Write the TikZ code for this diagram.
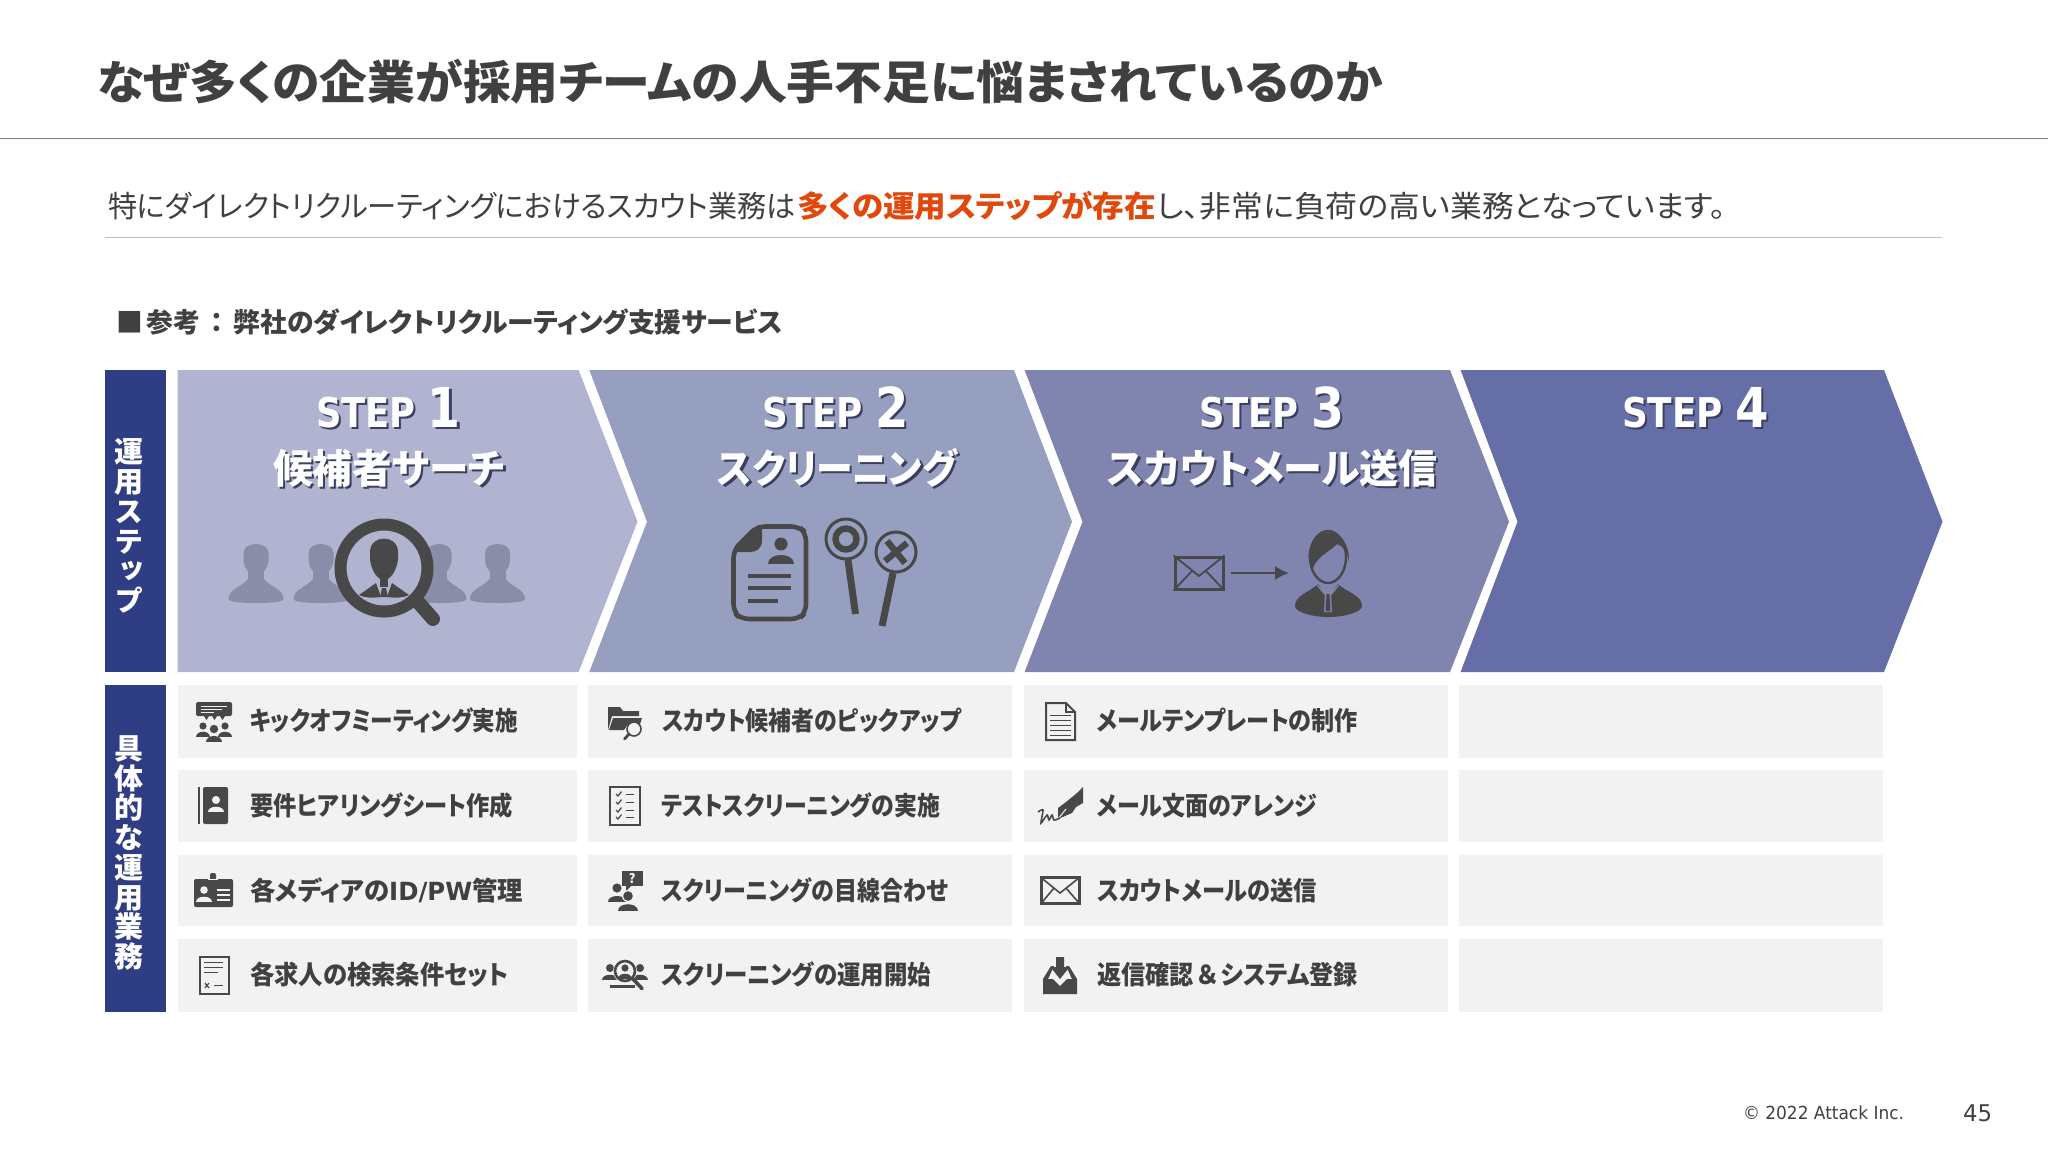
\documentclass[tikz,border=0pt]{standalone}
\usepackage{fontspec}
\usepackage{graphicx}
\usetikzlibrary{arrows.meta}
\newfontfamily\jp[RawFeature=+palt]{Noto Sans CJK JP}
\newfontfamily\jpv[RawFeature=+vert]{Noto Sans CJK JP}
\newfontfamily\vd{DejaVu Sans}
\definecolor{txt}{HTML}{404040}
\definecolor{ic}{HTML}{484848}
\definecolor{org}{HTML}{E0480C}
\definecolor{barc}{HTML}{2F3D85}
\definecolor{cha}{HTML}{B1B4D1}
\definecolor{chb}{HTML}{979FC0}
\definecolor{chc}{HTML}{8085B0}
\definecolor{chd}{HTML}{656EA6}
\definecolor{cell}{HTML}{F2F2F2}
\definecolor{ghost}{HTML}{8A8DA8}
\definecolor{shd}{HTML}{3A3F60}
\newdimen\px \px=0.5pt
\newcommand\fitw[2]{\resizebox{#1\px}{\height}{#2}}
\newcommand\shdw[1]{\leavevmode\rlap{\raisebox{-1.2pt}{\hspace{1.2pt}\color{shd}#1}}#1}
\newcommand\stp[1]{\vd\bfseries\fontsize{20.5}{24}\selectfont STEP\ \fontsize{27.5}{29}\selectfont #1}
\newcommand\mper[4]{% cx, head cy, r, colour
  \fill[#4] (#1,#2) circle [radius=#3];
  \fill[#4] ({#1-2*#3},{#2+3.1*#3}) .. controls ({#1-2*#3},{#2+1.2*#3}) and ({#1+2*#3},{#2+1.2*#3}) .. ({#1+2*#3},{#2+3.1*#3}) -- cycle;
}
\newcommand\sil[3]{% cx, top, colour
  \begin{scope}[shift={(#1,#2)}]
  \fill[#3] (-12.5,10) .. controls (-12.5,-2) and (12.5,-2) .. (12.5,10) -- (12.5,18) .. controls (11,27) and (7,31) .. (0,31) .. controls (-7,31) and (-11,27) .. (-12.5,18) -- cycle;
  \fill[#3] (-8,24) rectangle (8,40);
  \fill[#3] (-27.5,56) .. controls (-27.5,46) and (-14,44) .. (-8,36) -- (8,36) .. controls (14,44) and (27.5,46) .. (27.5,56) .. controls (27,59.5) and (10,60) .. (0,60) .. controls (-10,60) and (-27,59.5) .. cycle;
  \end{scope}
}
\tikzset{
  x=0.5pt,y=-0.5pt,
  plain/.style={inner sep=0pt,outer sep=0pt,anchor=base west},
  titlet/.style={plain,text=txt,font=\jp\bfseries\fontsize{23}{26}\selectfont},
  subt/.style={plain,text=txt,font=\jp\fontsize{15}{18}\selectfont},
  subo/.style={plain,text=org,font=\jp\bfseries\fontsize{15}{18}\selectfont},
  headt/.style={plain,text=txt,font=\jp\bfseries\fontsize{13.5}{16}\selectfont},
  stept/.style={plain,text=white},
  namet/.style={plain,text=white,font=\jp\bfseries\fontsize{20}{24}\selectfont},
  itemt/.style={plain,text=txt,font=\jp\bfseries\fontsize{13}{16}\selectfont},
  sidet/.style={inner sep=0pt,text=white,align=center},
  cellb/.style={fill=cell},
  thin1/.style={draw=ic,line width=1pt},
  thin2/.style={draw=ic,line width=1.5pt},
}
\begin{document}
\begin{tikzpicture}
\useasboundingbox (0,0) rectangle (2048,1152);
\fill[white] (0,0) rectangle (2048,1152);
% header
\node[titlet] (title) at (97,99) {\fitw{1286}{なぜ多くの企業が採用チームの人手不足に悩まされているのか}};
\draw[draw=black!50,line width=0.7pt] (0,138.5) -- (2048,138.5);
\node[subt] (sub) at (108,217) {\fitw{688}{特にダイレクトリクルーティングにおけるスカウト業務は}};
\node[subo] (subb) at (797,217) {\fitw{359}{多くの運用ステップが存在}};
\node[subt] (subc) at (1157,217) {\fitw{569}{し、非常に負荷の高い業務となっています。}};
\draw[draw=black!25,line width=0.6pt] (105,237.7) -- (1942,237.7);
\node[headt] (ref) at (116,332) {\fitw{667}{■\hspace{2pt}参考\hspace{5pt}：\hspace{5pt}弊社のダイレクトリクルーティング支援サービス}};
% side bars
\fill[barc] (104.7,370) rectangle (165.7,672);
\fill[barc] (104.7,684.7) rectangle (165.7,1011.7);
\node[sidet,font=\jpv\bfseries\fontsize{14.5}{14.85}\selectfont] (sidea) at (129,526) {運\\用\\ス\\テ\\ッ\\プ};
\node[sidet,font=\jp\bfseries\fontsize{14.5}{14.85}\selectfont] (sideb) at (129,853) {具\\体\\的\\な\\運\\用\\業\\務};
% chevrons
\fill[cha] (177.5,370) -- (578.6,370) -- (637.5,521.7) -- (578.6,672) -- (177.5,672) -- cycle;
\fill[chb] (589.3,370) -- (1014,370) -- (1072,521.7) -- (1014,672) -- (589.3,672) -- (647,521.7) -- cycle;
\fill[chc] (1024.6,370) -- (1450,370) -- (1509,521.7) -- (1450,672) -- (1024.6,672) -- (1082.5,521.7) -- cycle;
\fill[chd] (1460.6,370) -- (1884,370) -- (1942.5,521.7) -- (1884,672) -- (1460.6,672) -- (1517.5,521.7) -- cycle;
% step titles
\node[stept] (s1) at (316,427) {\fitw{145}{\shdw{\stp{1}}}};
\node[stept] (s2) at (762,427) {\fitw{146.6}{\shdw{\stp{2}}}};
\node[stept] (s3) at (1199,427) {\fitw{145}{\shdw{\stp{3}}}};
\node[stept] (s4) at (1622,427) {\fitw{147}{\shdw{\stp{4}}}};
\node[namet] (n1) at (273,483) {\fitw{232}{\shdw{候補者サーチ}}};
\node[namet] (n2) at (717.5,483) {\fitw{239.5}{\shdw{スクリーニング}}};
\node[namet] (n3) at (1107.5,483) {\fitw{330}{\shdw{スカウトメール送信}}};
% step 1 icon
\sil{256}{543}{ghost}
\sil{321}{543}{ghost}
\sil{439}{543}{ghost}
\sil{497.5}{543}{ghost}
\draw[ic,line width=7pt,line cap=round] (418,602) -- (433,619);
\fill[cha] (384,568) circle [radius=45];
\draw[ic,line width=6pt] (384,568) circle [radius=43.5];
\fill[ic] (370,552) .. controls (370,534) and (398,534) .. (398,552) -- (398,560) .. controls (396,572) and (390,580) .. (384,580) .. controls (378,580) and (372,572) .. (370,560) -- cycle;
\fill[ic] (380,578) rectangle (388,587);
\fill[ic] (359,595) -- (376,583) -- (381,597) .. controls (372,598) and (365,598) .. cycle;
\fill[ic] (409,595) -- (392,583) -- (387,597) .. controls (396,598) and (403,598) .. cycle;
\fill[ic] (382,588) -- (386,588) -- (388,597) -- (380,597) -- cycle;
% step 2 icons
\draw[ic,line width=2.3pt,rounded corners=4pt] (733.5,550) -- (733.5,612) -- (741,619) -- (799,619) -- (806,612) -- (806,533) -- (799,526.5) -- (757,526.5) -- cycle;
\fill[ic] (733,552) -- (758,525) -- (762,525) -- (762,540) .. controls (762,549) and (756,552) .. (750,552) -- cycle;
\mper{781}{544}{6.5}{ic}
\fill[ic] (748,574) rectangle (791,578);
\fill[ic] (748,586) rectangle (791,590);
\fill[ic] (748,599) rectangle (778,603);
\draw[ic,line width=1.5pt] (846,539) circle [radius=20];
\draw[ic,line width=3.2pt] (846,539) circle [radius=10.5];
\draw[ic,line width=3.5pt] (848,560) -- (855.5,614);
\draw[ic,line width=1.5pt] (896,552) circle [radius=20];
\draw[ic,line width=3.2pt] (887,541) -- (905,563);
\draw[ic,line width=3.2pt] (907,543) -- (885,561);
\draw[ic,line width=3.5pt] (893,573) -- (882,626);
% step 3 icon
\node[draw=ic,line width=1.5pt,minimum width=24pt,minimum height=16pt,inner sep=0pt] (mail) at (1199,573) {};
\draw[ic,line width=0.9pt] (mail.north west) -- (1199,576) -- (mail.north east);
\draw[ic,line width=0.9pt] (mail.south west) -- (1192,571);
\draw[ic,line width=0.9pt] (mail.south east) -- (1206,571);
\coordinate (pers) at (1289,573);
\draw[ic,line width=0.8pt,-{Latex[length=7pt,width=7pt]},shorten <=3pt] (mail.east) -- (pers);
\draw[ic,line width=1.2pt] (1328,557) ellipse [x radius=18, y radius=26];
\fill[ic] (1309,562) .. controls (1304,525) and (1350,520) .. (1349,562) .. controls (1347,550) and (1342,546) .. (1337,544) .. controls (1330,552) and (1318,555) .. (1313,568) -- cycle;
\fill[ic] (1295,606) .. controls (1295,595) and (1310,592) .. (1318,584) -- (1328,600) -- (1338,584) .. controls (1346,592) and (1362,595) .. (1362,606) .. controls (1362,612) and (1345,617) .. (1328,617) .. controls (1312,617) and (1295,612) .. cycle;
\draw[chc,line width=0.6pt] (1317,585) -- (1328,598) -- (1339,585);
\fill[chc] (1325,593) -- (1331,593) -- (1332,612) -- (1324,612) -- cycle;
\fill[ic] (1326.5,594) -- (1329.5,594) -- (1330.5,611) -- (1325.5,611) -- cycle;
% cells
\foreach \xa/\xb in {177.5/576.7,588.3/1012,1024/1447.7,1459.3/1883}{
  \foreach \ya/\yb in {684.7/757.5,769.5/842,854.5/926,939/1011.5}{
    \fill[cellb] (\xa,\ya) rectangle (\xb,\yb);
  }
}
% items
\node[itemt] (a1) at (250,730.5) {\fitw{268}{キックオフミーティング実施}};
\node[itemt] (a2) at (250.5,815.5) {\fitw{262.5}{要件ヒアリングシート作成}};
\node[itemt] (a3) at (250,900) {\fitw{273}{各メディアの{\vd\bfseries\fontsize{12.5}{16}\selectfont ID/PW}管理}};
\node[itemt] (a4) at (250,984.5) {\fitw{259}{各求人の検索条件セット}};
\node[itemt] (b1) at (662,730.5) {\fitw{299}{スカウト候補者のピックアップ}};
\node[itemt] (b2) at (661,815.5) {\fitw{279}{テストスクリーニングの実施}};
\node[itemt] (b3) at (661.5,900) {\fitw{286.5}{スクリーニングの目線合わせ}};
\node[itemt] (b4) at (661.5,984.5) {\fitw{269.5}{スクリーニングの運用開始}};
\node[itemt] (c1) at (1097,730.5) {\fitw{261}{メールテンプレートの制作}};
\node[itemt] (c2) at (1097,815.5) {\fitw{220}{メール文面のアレンジ}};
\node[itemt] (c3) at (1097,900) {\fitw{220}{スカウトメールの送信}};
\node[itemt] (c4) at (1097,984.5) {\fitw{261}{返信確認\hspace{2pt}＆\hspace{2pt}システム登録}};
% icon a1 kickoff
\fill[ic,rounded corners=1pt] (196,702) rectangle (232,716);
\draw[cell,line width=0.4pt] (201,706) -- (227,706);
\draw[cell,line width=0.4pt] (201,709) -- (222,709);
\draw[cell,line width=0.4pt] (201,712) -- (214,712);
\fill[ic] (204,716) -- (209,716) -- (206.5,720) -- cycle;
\fill[ic] (212,716) -- (217,716) -- (214.5,720) -- cycle;
\fill[ic] (220,716) -- (225,716) -- (222.5,720) -- cycle;
\mper{203}{726}{3.6}{ic}
\mper{225}{726}{3.6}{ic}
\fill[cell] (214,729) circle [radius=5.5];
\mper{214}{729}{4.2}{ic}
% icon a2 address book
\fill[ic] (198.3,787) rectangle (200,824);
\fill[ic,rounded corners=1pt] (203,787) rectangle (228,824);
\mper{216}{800}{4}{cell}
% icon a3 id card
\fill[ic,rounded corners=1pt] (194,879) rectangle (233,907);
\fill[ic,rounded corners=1pt] (210,873) rectangle (216,884);
\draw[cell,line width=0.4pt] (208,879) -- (218,879);
\mper{204}{890}{3.8}{cell}
\fill[cell] (217,889) rectangle (230,890.5);
\fill[cell] (217,894) rectangle (230,895.5);
\fill[cell] (217,899) rectangle (230,900.5);
% icon a4 doc x
\draw[thin1] (199.5,957) rectangle (228.5,994);
\fill[ic] (204,962) rectangle (223,963.2);
\fill[ic] (204,967) rectangle (223,968.2);
\fill[ic] (204,972) rectangle (218,973.2);
\draw[ic,line width=0.6pt] (205,983) -- (209,988);
\draw[ic,line width=0.6pt] (209,983) -- (205,988);
\fill[ic] (214,985) rectangle (223,986.2);
% icon b1 folder
\fill[ic] (608,707) -- (620,707) -- (623,711) -- (639,711) -- (639,716) -- (612,716) -- (608,730) -- cycle;
\fill[ic] (613,718) -- (642,718) -- (640,724) -- (628,724) -- (624,730) -- (609,730) -- cycle;
\draw[ic,line width=0.8pt,fill=cell] (634,729) circle [radius=7];
\draw[ic,line width=1.4pt,line cap=round] (629,734) -- (624.5,739);
% icon b2 checklist
\draw[thin1] (610,787) rectangle (639.5,824.5);
\foreach \yy in {794,802,810,817}{
  \draw[ic,line width=0.6pt] (616,\yy) -- (618,{\yy+2}) -- (621.5,{\yy-2.5});
  \fill[ic] (626,{\yy-0.4}) rectangle (634,{\yy+0.6});
}
% icon b3 question
\fill[ic] (622,871) rectangle (643,886);
\fill[ic] (626,886) -- (631,886) -- (626,891) -- cycle;
\node[inner sep=0pt,text=cell,font=\jp\bfseries\fontsize{6.5}{7}\selectfont] (qm) at (632,878.5) {?};
\mper{617}{888}{4.6}{ic}
\fill[cell] (628,896) circle [radius=6];
\mper{628}{896}{4.8}{ic}
% icon b4 search people
\mper{610}{968}{4}{ic}
\mper{640}{968}{4}{ic}
\fill[cell] (625,971) circle [radius=12];
\draw[ic,line width=1.3pt] (625,971) circle [radius=10];
\mper{625}{968}{3.6}{ic}
\fill[ic] (610,985) rectangle (635,988);
\draw[ic,line width=1.8pt,line cap=round] (633,979) -- (642,988.5);
% icon c1 doc
\draw[thin1] (1046,703) -- (1066,703) -- (1075,712) -- (1075,740) -- (1046,740) -- cycle;
\draw[ic,line width=0.7pt] (1066,703) -- (1066,712) -- (1075,712);
\foreach \yy in {715,720,725,730,735}{ \fill[ic] (1050,\yy) rectangle (1071,{\yy+1.2}); }
% icon c2 pen
\fill[ic] (1058,819) -- (1058,808) -- (1066,802) -- (1077,793) -- (1083,787) -- (1083,803) -- (1076,807) -- (1072,813) -- cycle;
\draw[cell,line width=0.5pt] (1058,819) -- (1066,809);
\draw[ic,line width=0.8pt] plot[smooth] coordinates {(1038,812) (1043,810) (1041,823) (1047,815) (1049,820) (1052,815) (1054,820) (1060,818)};
% icon c3 envelope
\draw[thin2] (1041,877.5) rectangle (1079.5,903.5);
\draw[ic,line width=0.8pt] (1041,877.5) -- (1060,893) -- (1079.5,877.5);
\draw[ic,line width=0.8pt] (1041,903.5) -- (1054,888);
\draw[ic,line width=0.8pt] (1079.5,903.5) -- (1066,888);
% icon c4 inbox
\fill[ic] (1043,994) -- (1043,979) -- (1051,966) -- (1054,966) -- (1048,979) -- (1053,979) -- (1060,986) -- (1067,979) -- (1072,979) -- (1066,966) -- (1069,966) -- (1077,979) -- (1077,994) -- cycle;
\fill[cell] (1055,957) rectangle (1065,970);
\fill[ic] (1056,957) -- (1064,957) -- (1064,967) -- (1069.5,967) -- (1060,979) -- (1050.5,967) -- (1056,967) -- cycle;
% footer
\node[plain,text=txt,font=\vd\fontsize{9}{11}\selectfont] (copy) at (1743,1119) {\fitw{161}{© 2022 Attack Inc.}};
\node[plain,text=txt,font=\vd\fontsize{11.5}{13}\selectfont] (page) at (1963,1121) {\fitw{29}{45}};
\end{tikzpicture}
\end{document}
